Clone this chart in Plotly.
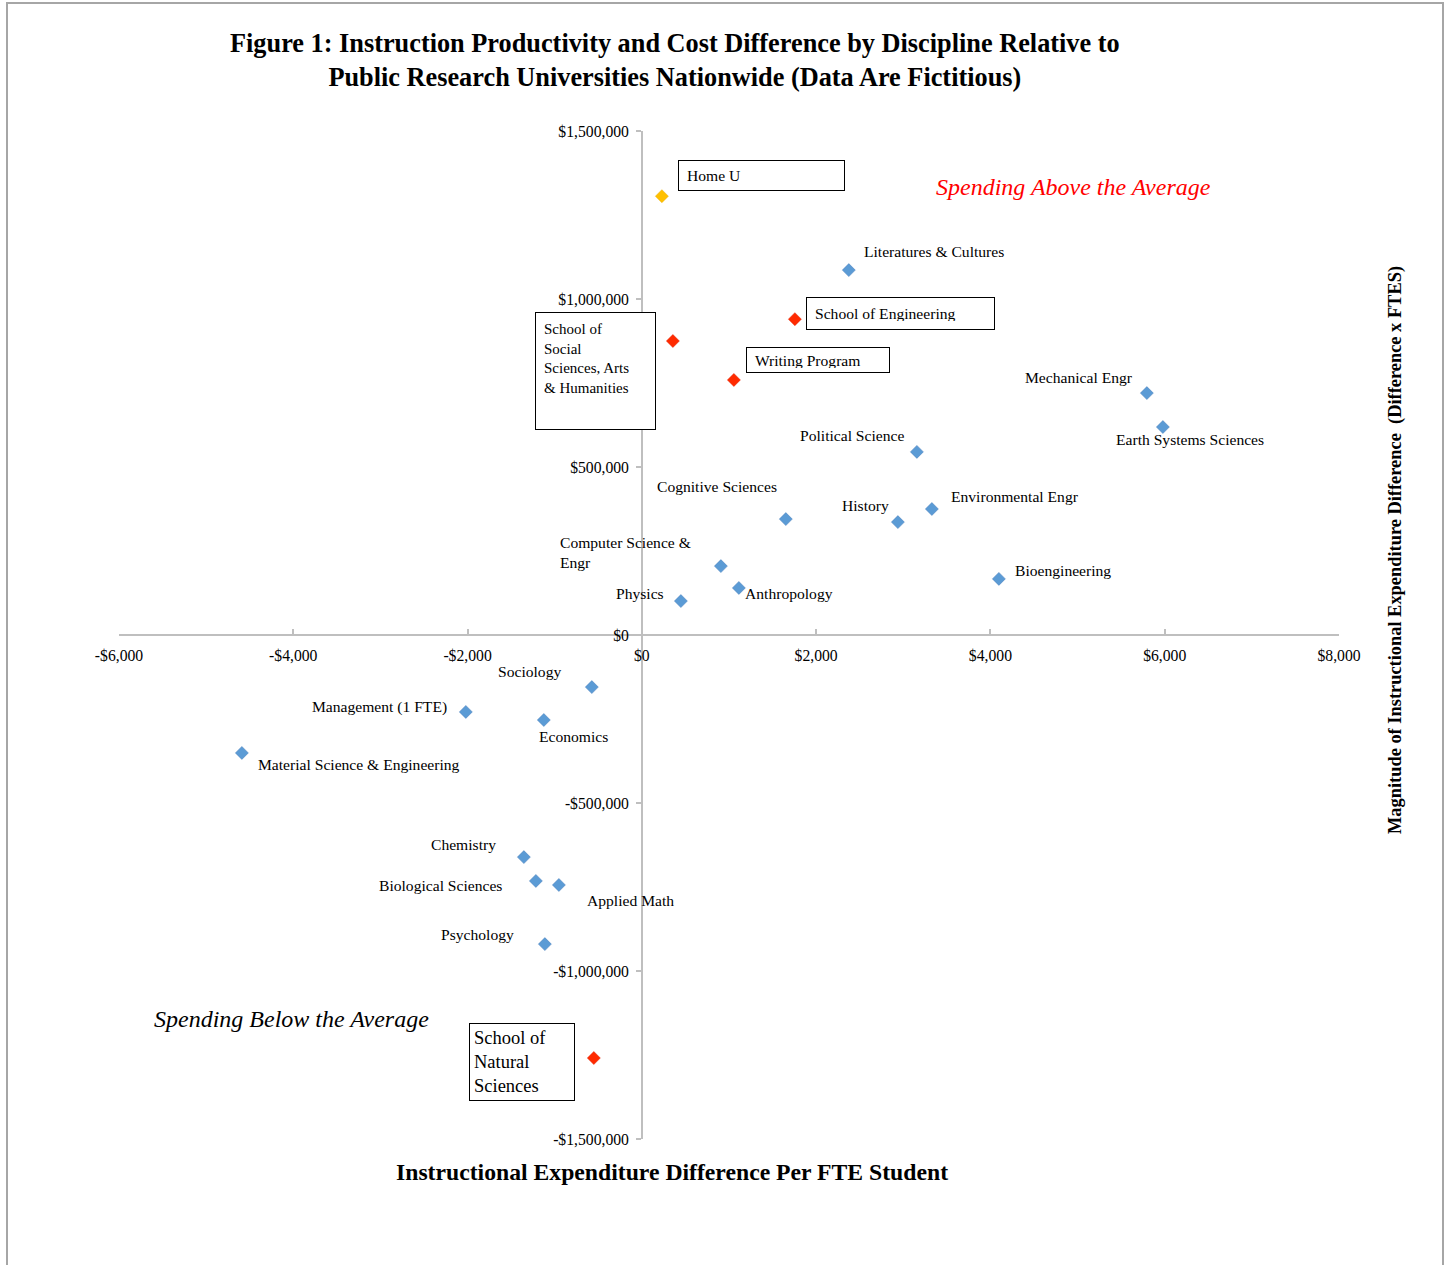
import plotly.graph_objects as go

# ---------------- data ----------------
dept_names = ["Literatures & Cultures", "Mechanical Engr", "Earth Systems Sciences",
              "Political Science", "Cognitive Sciences", "History", "Environmental Engr",
              "Computer Science & Engr", "Anthropology", "Physics", "Bioengineering",
              "Sociology", "Management (1 FTE)", "Economics", "Material Science & Engineering",
              "Chemistry", "Biological Sciences", "Applied Math", "Psychology"]
dept_x = [2375, 5795, 5979, 3156, 1652, 2938, 3328, 907, 1113, 448, 4097,
          -574, -2020, -1125, -4590, -1354, -1216, -952, -1113]
dept_y = [1086000, 720000, 619000, 545000, 345000, 336000, 375000, 205000, 140000, 101000, 167000,
          -155000, -229000, -253000, -351000, -661000, -732000, -744000, -920000]

school_names = ["School of Engineering", "School of Social Sciences, Arts & Humanities",
                "Writing Program", "School of Natural Sciences"]
school_x = [1756, 356, 1056, -551]
school_y = [940000, 875000, 759000, -1259000]

home_name = ["Home U"]
home_x = [230]
home_y = [1306000]

x_tickvals = [-6000, -4000, -2000, 0, 2000, 4000, 6000, 8000]
x_ticktext = ["-$6,000", "-$4,000", "-$2,000", "$0", "$2,000", "$4,000", "$6,000", "$8,000"]
y_tickvals = [-1500000, -1000000, -500000, 0, 500000, 1000000, 1500000]
y_ticktext = ["-$1,500,000", "-$1,000,000", "-$500,000", "$0", "$500,000", "$1,000,000", "$1,500,000"]

X_MIN, X_MAX = -6000, 8000
Y_MIN, Y_MAX = -1500000, 1500000

# ---------------- layout geometry ----------------
W, H = 1449, 1265
L, R, T, B = 119, 110, 131, 126
PW, PH = W - L - R, H - T - B

def dx(px):
    return X_MIN + (px - L) / PW * (X_MAX - X_MIN)

def dy(py):
    return Y_MAX - (py - T) / PH * (Y_MAX - Y_MIN)

FONT = "Liberation Serif"
LS = 15.6  # label font size

fig = go.Figure()
fig.add_trace(go.Scatter(x=dept_x, y=dept_y, mode="markers", text=dept_names,
                         marker=dict(symbol="diamond", size=10, color="#5B9BD5",
                                     line=dict(color="#4A7EBB", width=0.5)),
                         hoverinfo="text", showlegend=False))
fig.add_trace(go.Scatter(x=school_x, y=school_y, mode="markers", text=school_names,
                         marker=dict(symbol="diamond", size=10, color="#FF2A00",
                                     line=dict(color="#E02000", width=0.5)),
                         hoverinfo="text", showlegend=False))
fig.add_trace(go.Scatter(x=home_x, y=home_y, mode="markers", text=home_name,
                         marker=dict(symbol="diamond", size=10, color="#FFC000",
                                     line=dict(color="#E6AC00", width=0.5)),
                         hoverinfo="text", showlegend=False))

annotations = []

def label(text, px, py, size=LS, color="black", xanchor="left", italic=False):
    t = f"<i>{text}</i>" if italic else text
    annotations.append(dict(text=t, x=dx(px), y=dy(py), xref="x", yref="y",
                            xanchor=xanchor, yanchor="middle", showarrow=False, align="left",
                            font=dict(family=FONT, size=size, color=color)))

plain_labels = [
    ("Literatures &amp; Cultures", 862, 251),
    ("Mechanical Engr", 1023, 377),
    ("Earth Systems Sciences", 1114, 439),
    ("Political Science", 798, 435),
    ("Cognitive Sciences", 655, 486),
    ("History", 840, 505),
    ("Environmental Engr", 949, 496),
    ("Computer Science &amp;<br>Engr", 558, 552),
    ("Physics", 614, 593),
    ("Anthropology", 743, 593),
    ("Bioengineering", 1013, 570),
    ("Sociology", 496, 671),
    ("Management (1 FTE)", 310, 707),
    ("Economics", 537, 736),
    ("Material Science &amp; Engineering", 256, 764),
    ("Chemistry", 429, 844),
    ("Biological Sciences", 377, 885),
    ("Applied Math", 585, 900),
    ("Psychology", 439, 934),
]
for t, px, py in plain_labels:
    label(t, px, py)

label("Spending Above the Average", 1073, 187, size=24, color="#FF0000", xanchor="center", italic=True)
label("Spending Below the Average", 291, 1019, size=24, color="black", xanchor="center", italic=True)

def boxed(text, x0, y0, x1, y1, bp, size=LS, valign="middle"):
    annotations.append(dict(text=text, x=dx(x0), y=dy(y0), xref="x", yref="y",
                            xanchor="left", yanchor="top", showarrow=False,
                            align="left", valign=valign,
                            width=(x1 - x0) - 2 * bp - 2, height=(y1 - y0) - 2 * bp - 2,
                            borderpad=bp, bordercolor="black", borderwidth=1,
                            bgcolor="white",
                            font=dict(family=FONT, size=size, color="black")))

boxed("Home U", 678, 160, 845, 191, 8)
boxed("School of Engineering", 806, 297, 995, 330, 8)
boxed("\u00a0Writing Program", 746, 347, 890, 373, 4)
boxed("School of<br>Social<br>Sciences, Arts<br>&amp; Humanities", 535, 312, 656, 430, 8, size=15, valign="top")
boxed("School of<br>Natural<br>Sciences", 469, 1023, 575, 1101, 4, size=18.5)

# titles
annotations.append(dict(text="<b>Figure 1: Instruction Productivity and Cost Difference by Discipline Relative to<br>"
                             "Public Research Universities Nationwide (Data Are Fictitious)</b>",
                        x=(675 - L) / PW, y=(H - B - 60) / PH, xref="paper", yref="paper",
                        xanchor="center", yanchor="middle", showarrow=False,
                        font=dict(family=FONT, size=26.3, color="black")))
annotations.append(dict(text="<b>Instructional Expenditure Difference Per FTE Student</b>",
                        x=(672 - L) / PW, y=(H - B - 1172) / PH, xref="paper", yref="paper",
                        xanchor="center", yanchor="middle", showarrow=False,
                        font=dict(family=FONT, size=23.7, color="black")))
annotations.append(dict(text="<b>Magnitude of Instructional Expenditure Difference  (Difference x FTES)</b>",
                        x=(1395 - L) / PW, y=(H - B - 550) / PH, xref="paper", yref="paper",
                        xanchor="center", yanchor="middle", showarrow=False, textangle=-90,
                        font=dict(family=FONT, size=18.4, color="black")))

AX = "#BFBFBF"
fig.update_layout(
    width=W, height=H,
    margin=dict(l=L, r=R, t=T, b=B),
    plot_bgcolor="white", paper_bgcolor="white",
    font=dict(family=FONT, size=15.7, color="black"),
    annotations=annotations,
    xaxis=dict(range=[X_MIN, X_MAX], tickvals=x_tickvals, ticktext=x_ticktext,
               showgrid=False, zeroline=False, showline=True, linecolor=AX, linewidth=1.5,
               ticks="inside", ticklen=5, tickcolor=AX, tickwidth=1.5,
               ticklabelstandoff=6,
               anchor="free", position=(0 - Y_MIN) / (Y_MAX - Y_MIN),
               tickfont=dict(family=FONT, size=15.7, color="black"), fixedrange=True),
    yaxis=dict(range=[Y_MIN, Y_MAX], tickvals=y_tickvals, ticktext=y_ticktext,
               showgrid=False, zeroline=False, showline=True, linecolor=AX, linewidth=1.5,
               ticks="outside", ticklen=5, tickcolor=AX, tickwidth=1.5,
               ticklabelstandoff=4,
               anchor="free", position=(0 - X_MIN) / (X_MAX - X_MIN),
               tickfont=dict(family=FONT, size=15.7, color="black"), fixedrange=True),
    shapes=[dict(type="rect", xref="paper", yref="paper",
                 x0=(7 - L) / PW, x1=(1443 - L) / PW,
                 y0=(H - B - 1300) / PH, y1=(H - B - 3) / PH,
                 line=dict(color="#A6A6A6", width=2), fillcolor="rgba(0,0,0,0)", layer="below")],
)

fig.write_html("out.html", config={"displayModeBar": False},
               post_script="document.body.style.margin='0';document.body.style.overflow='hidden';")
